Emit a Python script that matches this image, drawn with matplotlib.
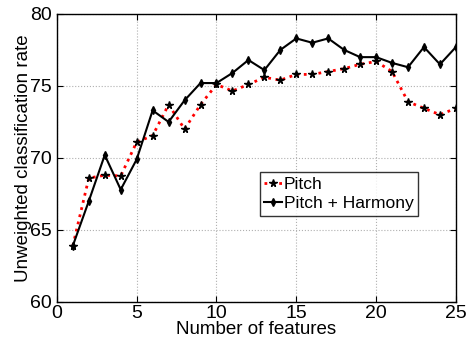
import matplotlib
matplotlib.use('Agg')
import matplotlib.pyplot as plt

plt.rcParams['font.family'] = ['Liberation Sans', 'DejaVu Sans']

# Data
n_features = list(range(1, 26))
pitch = [63.9, 68.6, 68.8, 68.75, 71.1, 71.55, 73.7, 72.0, 73.7, 75.1,
         74.65, 75.1, 75.6, 75.4, 75.8, 75.8, 76.0, 76.2, 76.5, 76.7,
         76.0, 73.9, 73.45, 73.0, 73.45]
pitch_harmony = [63.9, 67.0, 70.2, 67.8, 69.9, 73.3, 72.5, 74.0, 75.2, 75.2,
                 75.9, 76.8, 76.1, 77.5, 78.3, 78.0, 78.3, 77.5, 77.0, 77.0,
                 76.6, 76.3, 77.7, 76.5, 77.7]

fig = plt.figure(figsize=(4.7, 3.4), dpi=100)
ax = fig.add_axes([0.121, 0.112, 0.849, 0.847])

ax.plot(n_features, pitch, color='red', linestyle=':', linewidth=2,
        marker='*', markersize=5.5, markerfacecolor='black',
        markeredgecolor='black', label='Pitch')
ax.plot(n_features, pitch_harmony, color='black', linestyle='-', linewidth=1.5,
        marker='d', markersize=4, markerfacecolor='black',
        markeredgecolor='black', label='Pitch + Harmony')

ax.set_xlim(0, 25)
ax.set_ylim(60, 80)
ax.set_xticks([0, 5, 10, 15, 20, 25])
ax.set_yticks([60, 65, 70, 75, 80])
ax.tick_params(direction='in', labelsize=14, length=4, top=True, right=True)
ax.tick_params(axis='x', pad=2.5)
ax.tick_params(axis='y', pad=3.5)
ax.grid(True, linestyle=':', color='#b0b0b0', linewidth=0.8)
for s in ax.spines.values():
    s.set_linewidth(1.0)

ax.set_xlabel('Number of features', fontsize=13.5, labelpad=-1)
ax.set_ylabel('Unweighted classification rate', fontsize=13.5, labelpad=-1)

leg = ax.legend(loc='upper left', bbox_to_anchor=(0.509, 0.451), fontsize=12.6,
                frameon=True, fancybox=False, edgecolor='black',
                handlelength=1.0, handletextpad=0.1, borderpad=0.25,
                labelspacing=0.25, borderaxespad=0)
leg.get_frame().set_linewidth(1.0)

fig.savefig('out.png', dpi=100)
